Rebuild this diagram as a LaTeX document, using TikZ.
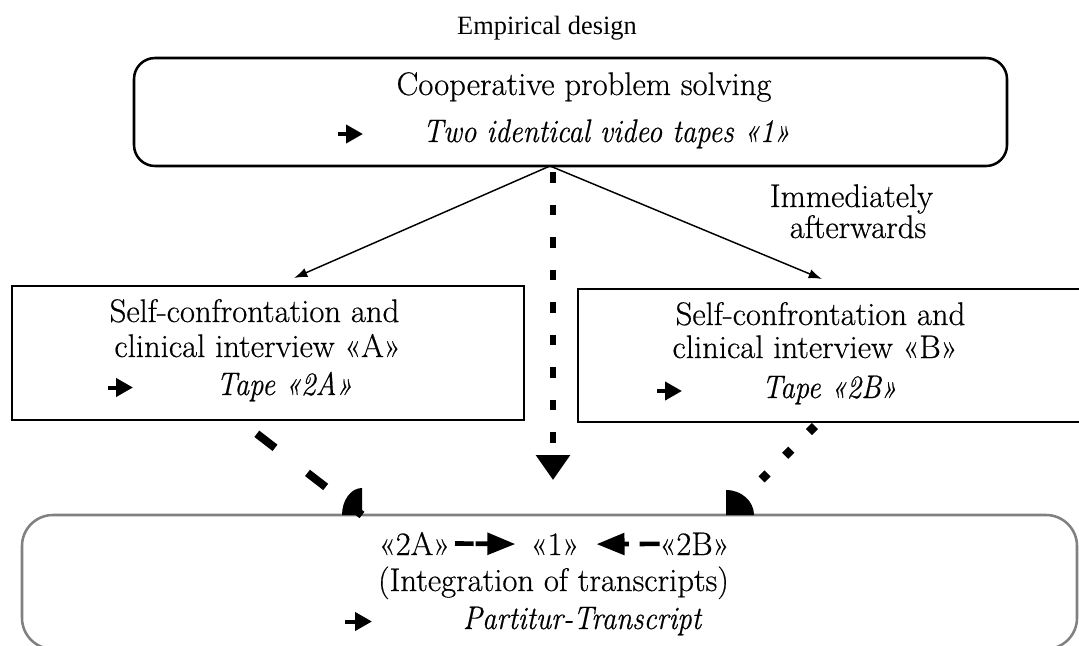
\documentclass[tikz,border=0pt]{standalone}
\usepackage{fontspec}
\usepackage{graphicx}
\setmainfont{Latin Modern Roman}[FakeBold=0.5]
\newfontfamily\titlefont{Liberation Serif}
\usetikzlibrary{arrows.meta,calc}
% condensed italic used for the tape lines
\newcommand\slimit[1]{\scalebox{0.885}[1]{\itshape #1}}
\begin{document}
\begin{tikzpicture}[x=0.75pt,y=-0.75pt,
  txt/.style={inner sep=0pt,outer sep=0pt,anchor=base,font=\fontsize{24.5}{30}\selectfont},
  heading/.style={inner sep=0pt,outer sep=0pt,anchor=base,font=\titlefont\fontsize{19.8}{24}\selectfont},
  panel/.style={draw,line width=1.5pt,inner sep=0pt,outer sep=0pt},
  softpanel/.style={draw=black!50,line width=1.9pt,inner sep=0pt,outer sep=0pt},
  glyph/.style={line width=3pt,-{Triangle[length=12.75pt,width=13.5pt]}},
  flow/.style={line width=1.1pt,-{Latex[length=10pt,width=7pt]}},
  tapeflow/.style={line width=4.5pt,dash pattern=on 7.9pt off 16.5pt,dash phase=19.9pt,
    -{Triangle[length=18.75pt,width=24.75pt]}},
  tapeA/.style={line width=6pt,dash pattern=on 17.25pt off 30.75pt,dash phase=31.1pt},
  tapeB/.style={line width=6.4pt,dash pattern=on 6.4pt off 18.75pt,dash phase=20.9pt},
  minorR/.style={line width=3.5pt,dash pattern=on 14pt off 1.5pt on 10pt,
    -{Triangle[length=21pt,width=16pt]}},
  minorL/.style={line width=3.5pt,dash pattern=on 15pt off 8pt on 20pt,
    -{Triangle[length=21pt,width=16pt]}}]
\path[use as bounding box] (0,0) rectangle (1079,646);
\clip (0,0) rectangle (1079,646);

% heading
\node[heading] (title) at (547,34) {Empirical design};

% boxes
\node[panel,line width=1.9pt,rounded corners=15.75pt,minimum width=654.75pt,minimum height=81pt] (coop) at (570.5,112) {};
\node[panel,minimum width=384pt,minimum height=100.5pt] (interA) at (268,353) {};
\node[panel,minimum width=380.25pt,minimum height=99.75pt] (interB) at (831.5,355.5) {};
\node[softpanel,rounded corners=23.25pt,minimum width=791.25pt,minimum height=100.5pt] (merge) at (549.5,582) {};

% texts of the top box
\node[txt] (coop1) at (584,95) {Cooperative problem solving};
\node[txt] (coop2) at (606.5,142) {\slimit{Two identical video tapes «1»}};
\draw[glyph] (338,134) -- (363,134);

% texts of interview A
\node[txt] (a1) at (254.5,322) {Self-confrontation and};
\node[txt] (a2) at (257.5,357) {clinical interview «A»};
\node[txt] (a3) at (284.5,395) {\slimit{Tape «2A»}};
\draw[glyph] (108,387.5) -- (133,387.5);

% texts of interview B
\node[txt] (b1) at (820.5,325) {Self-confrontation and};
\node[txt] (b2) at (815,358) {clinical interview «B»};
\node[txt] (b3) at (829.5,398) {\slimit{Tape «2B»}};
\draw[glyph] (657,391) -- (682,391);

% timing label
\node[txt] (imm1) at (851.5,207) {Immediately};
\node[txt] (imm2) at (858,238) {afterwards};

% texts of the integration box
\node[txt] (q2A) at (414.5,555) {«2A»};
\node[txt] (q1) at (555,555) {«1»};
\node[txt] (q2B) at (694.5,555) {«2B»};
\node[txt] (integ) at (553.5,591) {(Integration of transcripts)};
\node[txt] (partitur) at (582,629) {\slimit{Partitur-Transcript}};
\draw[glyph] (345,621.5) -- (372,621.5);
\draw[minorR,shorten <=3.75pt,shorten >=11.6pt] (q2A.east) -- (q1.west);
\draw[minorL,shorten >=13pt] (q2B.west) -- (q1.east);

% connectors
\coordinate (fork) at ($(coop.south)+(-20.5,0)$);
\coordinate (spine) at ($(coop.south)+(-17.5,0)$);
\coordinate (joinA) at ($(merge.north)+(-187.5,0)$);
\coordinate (joinB) at ($(merge.north)+(176.5,0)$);
\draw[flow] (fork) -- ($(interA.north)+(26,-8)$);
\draw[flow] (fork) -- ($(interB.north)+(-9.5,-10)$);
\draw[tapeflow] (spine) -- ($(merge.north)+(3.5,-35)$);
\draw[tapeA] ($(interA.south)+(-29,0)$) -- (joinA);
\draw[tapeB] ($(interB.south)+(-12.5,0)$) -- (joinB);

% round tips where the tape lines meet the integration box
\fill (joinA) -- ++(-20,0) .. controls +(0,-14.9) and +(-11,0) .. ++(20,-27) -- cycle;
\fill (joinB) -- ++(28,0) .. controls +(0,-13.8) and +(15.5,0) .. ++(-28,-25) -- cycle;
\end{tikzpicture}
\end{document}
